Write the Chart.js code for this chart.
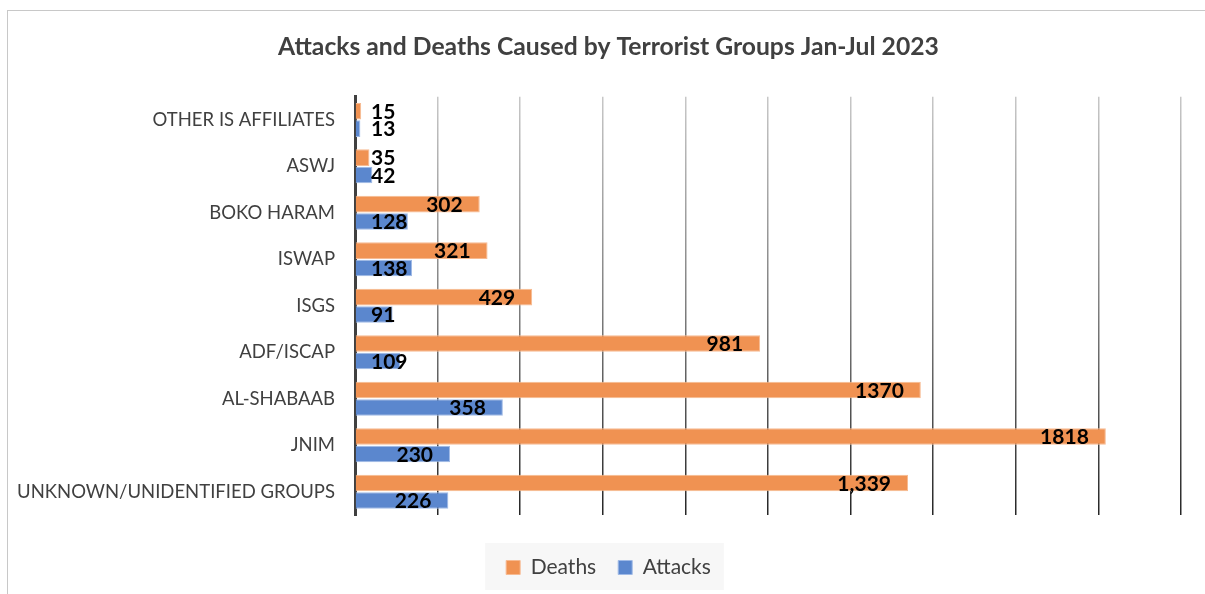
<!DOCTYPE html>
<html>
<head>
<meta charset="utf-8">
<script src="https://cdn.jsdelivr.net/npm/chart.js@4.4.0/dist/chart.umd.min.js"></script>
<style>
    html, body { margin: 0; padding: 0; background: #fff; overflow: hidden; }
    #frame { position: absolute; left: 7px; top: 10px; width: 1400px; height: 800px; border: 1px solid #c8c8c8; }
    #wrap { position: absolute; left: 0; top: 0; width: 1205px; height: 594px; }
</style>
</head>
<body>
<div id="frame"></div>
<div id="wrap"><canvas id="chart"></canvas></div>
<script>
const groups = [
    'OTHER IS AFFILIATES',
    'ASWJ',
    'BOKO HARAM',
    'ISWAP',
    'ISGS',
    'ADF/ISCAP',
    'AL-SHABAAB',
    'JNIM',
    'UNKNOWN/UNIDENTIFIED GROUPS'
];
const deaths = [15, 35, 302, 321, 429, 981, 1370, 1818, 1339];
const attacks = [13, 42, 128, 138, 91, 109, 358, 230, 226];
const deathLabels = ['15', '35', '302', '321', '429', '981', '1370', '1818', '1,339'];
const attackLabels = ['13', '42', '128', '138', '91', '109', '358', '230', '226'];
const xMin = 0;
const xMax = 2000;
const xStep = 200;

const FONT = 'Lato, "Noto Sans", sans-serif';
const TEXT_GRAY = '#404040';

// grid lines fade from light at the top to dark at the bottom
let gridGradient = null;
let gridKey = '';
function gridColor(c) {
    if (c.index === 0) return 'rgba(0,0,0,0)';
    const area = c.chart.chartArea;
    if (!area) return 'rgba(0,0,0,0.4)';
    const key = area.top + ':' + area.bottom;
    if (!gridGradient || key !== gridKey) {
        const g = c.chart.ctx.createLinearGradient(0, area.top, 0, area.bottom);
        g.addColorStop(0, 'rgba(0,0,0,0.22)');
        g.addColorStop(0.5, 'rgba(0,0,0,0.5)');
        g.addColorStop(1, 'rgba(0,0,0,0.85)');
        gridGradient = g;
        gridKey = key;
    }
    return gridGradient;
}

// value labels near the bar end, pushed right of the axis when the bar is short
const barLabels = {
    id: 'barLabels',
    afterDraw(chart) {
        const ctx = chart.ctx;
        const minLeft = chart.chartArea.left + 16;
        ctx.save();
        ctx.font = 'bold 21px ' + FONT;
        ctx.fillStyle = '#000';
        ctx.textBaseline = 'middle';
        ctx.textAlign = 'left';
        chart.data.datasets.forEach((ds, i) => {
            chart.getDatasetMeta(i).data.forEach((bar, j) => {
                const text = ds.valueLabels[j];
                const w = ctx.measureText(text).width;
                const left = Math.max(bar.x - 17 - w, minLeft);
                ctx.fillText(text, left, bar.y + 1);
            });
        });
        ctx.restore();
    }
};

// light panel behind the legend
const legendPanel = {
    id: 'legendPanel',
    beforeDraw(chart) {
        const boxes = chart.legend && chart.legend.legendHitBoxes;
        if (!boxes || !boxes.length) return;
        const left = Math.min(...boxes.map(b => b.left)) - 21;
        const right = Math.max(...boxes.map(b => b.left + b.width)) + 13;
        const top = boxes[0].top - 14;
        const bottom = boxes[0].top + boxes[0].height + 12;
        const ctx = chart.ctx;
        ctx.save();
        ctx.fillStyle = '#f7f7f7';
        ctx.fillRect(left, top, right - left, bottom - top);
        ctx.restore();
    }
};

// let the long category names use the space left of the layout padding
const wideLabels = {
    id: 'wideLabels',
    afterLayout(chart) {
        chart.scales.y.left = 0;
    }
};

const chart = new Chart(document.getElementById('chart'), {
    type: 'bar',
    data: {
        labels: groups,
        datasets: [{
            label: 'Deaths',
            data: deaths,
            valueLabels: deathLabels,
            backgroundColor: 'rgb(240, 146, 82)',
            borderColor: 'rgb(247, 186, 145)',
            borderWidth: 1,
            categoryPercentage: 0.75,
            barPercentage: 0.95
        }, {
            label: 'Attacks',
            data: attacks,
            valueLabels: attackLabels,
            backgroundColor: 'rgb(91, 135, 206)',
            borderColor: 'rgb(160, 186, 230)',
            borderWidth: 1,
            categoryPercentage: 0.75,
            barPercentage: 0.95
        }]
    },
    options: {
        indexAxis: 'y',
        responsive: true,
        maintainAspectRatio: false,
        animation: false,
        layout: {
            padding: { top: 0, left: 36, right: 24, bottom: 6 }
        },
        scales: {
            x: {
                min: xMin,
                max: xMax,
                z: 1,
                ticks: { display: false, stepSize: xStep },
                border: { display: false },
                grid: { color: gridColor, lineWidth: 1.5, drawTicks: false },
                afterFit(scale) { scale.height = 20; }
            },
            y: {
                z: 2,
                grid: { display: false, drawTicks: false },
                border: { display: true, color: TEXT_GRAY, width: 3 },
                ticks: {
                    color: TEXT_GRAY,
                    padding: 20,
                    autoSkip: false,
                    font: { family: FONT, size: 18.5 }
                },
                afterFit(scale) { scale.width = 355 - 36; }
            }
        },
        plugins: {
            title: {
                display: true,
                text: 'Attacks and Deaths Caused by Terrorist Groups Jan-Jul 2023',
                color: TEXT_GRAY,
                font: { family: FONT, size: 24.7, weight: 'bold' },
                padding: { top: 32, bottom: 35 }
            },
            legend: {
                position: 'bottom',
                labels: {
                    color: TEXT_GRAY,
                    font: { family: FONT, size: 21 },
                    boxWidth: 14,
                    boxHeight: 14,
                    padding: 22
                }
            },
            tooltip: { enabled: false }
        }
    },
    plugins: [barLabels, legendPanel, wideLabels]
});
</script>
</body>
</html>
